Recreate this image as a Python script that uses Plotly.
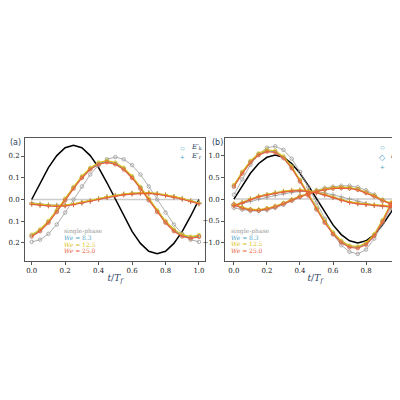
import plotly.graph_objects as go

t = [i / 20 for i in range(21)]

# panel (a)
forcing_a = [0, 0.077, 0.147, 0.202, 0.238, 0.25, 0.238, 0.202, 0.147, 0.077, 0,
             -0.077, -0.147, -0.202, -0.238, -0.25, -0.238, -0.202, -0.147, -0.077, 0]
ek_single_a = [-0.195, -0.185, -0.158, -0.115, -0.06, 0, 0.06, 0.115, 0.158, 0.185, 0.195,
               0.185, 0.158, 0.115, 0.06, 0, -0.06, -0.115, -0.158, -0.185, -0.195]
ek_we_a = [-0.166, -0.142, -0.103, -0.054, 0, 0.054, 0.103, 0.142, 0.166, 0.175, 0.166,
           0.142, 0.103, 0.054, 0, -0.054, -0.103, -0.142, -0.166, -0.175, -0.168]
er_we_a = [-0.02, -0.025, -0.028, -0.03, -0.028, -0.022, -0.015, -0.007, 0.002, 0.01, 0.017,
           0.023, 0.027, 0.03, 0.03, 0.026, 0.02, 0.012, 0.003, -0.008, -0.018]
er_single_a = [-0.015, -0.02, -0.024, -0.026, -0.025, -0.02, -0.013, -0.005, 0.004, 0.012, 0.019,
               0.025, 0.029, 0.031, 0.03, 0.027, 0.021, 0.013, 0.004, -0.006, -0.015]

# panel (b)
forcing_b = [0, 0.309, 0.588, 0.809, 0.951, 1, 0.951, 0.809, 0.588, 0.309, 0,
             -0.309, -0.588, -0.809, -0.951, -1, -0.951, -0.809, -0.588, -0.309, 0]
ek_single_b = [0.1, 0.45, 0.78, 1.02, 1.17, 1.2, 1.12, 0.92, 0.62, 0.28, -0.08,
               -0.45, -0.8, -1.05, -1.2, -1.25, -1.15, -0.9, -0.55, -0.2, 0.12]
ek_we_b = [0.3, 0.6, 0.85, 1.02, 1.1, 1.08, 0.95, 0.72, 0.42, 0.1, -0.22,
           -0.52, -0.78, -0.97, -1.08, -1.1, -1.02, -0.82, -0.5, -0.12, 0.3]
eps_single_b = [-0.2, -0.24, -0.27, -0.27, -0.25, -0.2, -0.13, -0.04, 0.05, 0.13, 0.2,
                0.25, 0.28, 0.3, 0.3, 0.27, 0.2, 0.1, -0.02, -0.1, -0.15]
eps_we_b = [-0.12, -0.2, -0.24, -0.25, -0.22, -0.17, -0.1, -0.02, 0.06, 0.12, 0.18,
            0.22, 0.25, 0.26, 0.25, 0.22, 0.15, 0.07, -0.03, -0.1, -0.15]
er_single_b = [-0.15, -0.1, -0.05, 0.0, 0.04, 0.08, 0.12, 0.15, 0.17, 0.18, 0.17,
               0.14, 0.1, 0.05, 0.0, -0.05, -0.1, -0.14, -0.17, -0.18, -0.2]
er_we_b = [-0.15, -0.08, 0.0, 0.06, 0.1, 0.14, 0.17, 0.19, 0.2, 0.18, 0.15,
           0.1, 0.04, -0.02, -0.07, -0.1, -0.12, -0.14, -0.15, -0.17, -0.18]

we_labels = ["We = 8.3", "We = 12.5", "We = 25.0"]
we_colors = ["#4fa3c7", "#d9c21a", "#e8603c"]
we_offsets = [0.0, 0.004, -0.004]
gray = "#999999"

fig = go.Figure()

def add(x, y, color, symbol, xa, ya, width=1.2):
    fig.add_trace(go.Scatter(
        x=x, y=y, xaxis=xa, yaxis=ya, mode="lines+markers",
        line=dict(color=color, width=width),
        marker=dict(symbol=symbol, size=3.5, color=color, line=dict(color=color, width=0.8)),
        showlegend=False))

for xa, ya, forcing, ek_s, ek_w, others_s, others_w, scale in [
        ("x", "y", forcing_a, ek_single_a, ek_we_a, [er_single_a], [er_we_a], 1),
        ("x2", "y2", forcing_b, ek_single_b, ek_we_b, [eps_single_b, er_single_b], [eps_we_b, er_we_b], 5)]:
    fig.add_trace(go.Scatter(x=[0, 1], y=[0, 0], xaxis=xa, yaxis=ya, mode="lines",
                             line=dict(color="#cccccc", width=1.5), showlegend=False))
    fig.add_trace(go.Scatter(x=t, y=forcing, xaxis=xa, yaxis=ya, mode="lines",
                             line=dict(color="black", width=1.5), showlegend=False))
    syms = ["diamond-open", "cross-thin-open"] if len(others_s) == 2 else ["cross-thin-open"]
    add(t, ek_s, gray, "circle-open", xa, ya, width=0.8)
    for s, sym in zip(others_s, syms):
        add(t, s, gray, sym, xa, ya, width=0.8)
    for c, off in zip(we_colors, we_offsets):
        add(t, [v + off * scale for v in ek_w], c, "circle-open", xa, ya)
        for s, sym in zip(others_w, syms):
            add(t, [v + off * scale * 0.5 for v in s], c, sym, xa, ya)

axis_common = dict(showgrid=False, zeroline=False, showline=True, mirror=True, linecolor="#555",
                   linewidth=1, ticks="outside", ticklen=3, tickcolor="#555", automargin=False,
                   tickfont=dict(size=7, family="DejaVu Serif", color="#222"))
xt = dict(tickvals=[0, 0.2, 0.4, 0.6, 0.8, 1.0], ticktext=["0.0", "0.2", "0.4", "0.6", "0.8", "1.0"],
          title=dict(text="<i>t</i>/<i>T<sub>f</sub></i>", font=dict(size=9, family="DejaVu Serif"),
                     standoff=0))
fig.update_layout(
    width=400, height=400, margin=dict(l=0, r=0, t=0, b=0, autoexpand=False),
    plot_bgcolor="white", paper_bgcolor="white",
    xaxis=dict(domain=[0.0425, 0.4925], range=[-0.04, 1.036], anchor="y", **xt, **axis_common),
    yaxis=dict(domain=[0.3675, 0.675], range=[-0.283, 0.283], tickvals=[-0.2, -0.1, 0, 0.1, 0.2],
               ticktext=["\u22120.2", "\u22120.1", "0.0", "0.1", "0.2"], anchor="x", **axis_common),
    xaxis2=dict(domain=[0.5425, 0.9925], range=[-0.054, 1.036], anchor="y2", **xt, **axis_common),
    yaxis2=dict(domain=[0.3675, 0.675], range=[-1.41, 1.39], tickvals=[-1, -0.5, 0, 0.5, 1],
                ticktext=["\u22121.0", "\u22120.5", "0.0", "0.5", "1.0"], anchor="x2", **axis_common),
)

ann_font = dict(size=7, family="DejaVu Serif")
anns = [
    dict(text="(a)", x=0.0, y=0.68, xref="paper", yref="paper", xanchor="left", yanchor="top",
         showarrow=False, font=dict(size=8, family="DejaVu Sans")),
    dict(text="(b)", x=0.505, y=0.68, xref="paper", yref="paper", xanchor="left", yanchor="top",
         showarrow=False, font=dict(size=8, family="DejaVu Sans")),
]
for xr, yr, xs, ys in [("x", "y", 0.18, [-0.145, -0.175, -0.205, -0.235]),
                       ("x2", "y2", -0.03, [-0.72, -0.87, -1.02, -1.17])]:
    texts = ["single-phase"] + ["<i>We</i> = " + w.split("= ")[1] for w in we_labels]
    for txt, yy, c in zip(texts, ys, [gray] + we_colors):
        anns.append(dict(text=txt, x=xs, y=yy, xref=xr, yref=yr, xanchor="left", showarrow=False,
                         font=dict(size=6, family="DejaVu Serif", color=c)))

leg_a = [("\u25cb", "<i>E</i>\u2032<sub>k</sub>", 0.24), ("+", "<i>E</i>\u2032<sub>r</sub>", 0.2)]
for sym, lab, yy in leg_a:
    anns.append(dict(text=sym, x=0.9, y=yy, xref="x", yref="y", showarrow=False,
                     font=dict(size=8, color=we_colors[0])))
    anns.append(dict(text=lab, x=0.94, y=yy, xref="x", yref="y", xanchor="left", showarrow=False,
                     font=ann_font))
leg_b = [("\u25cb", "<i>\u00ca</i>\u2032<sub>k</sub>", 1.2), ("\u25c7", "<i>\u03b5</i>\u2032", 0.97),
         ("+", "<i>\u00ca</i>\u2032<sub>r</sub>", 0.74)]
for sym, lab, yy in leg_b:
    anns.append(dict(text=sym, x=0.9, y=yy, xref="x2", yref="y2", showarrow=False,
                     font=dict(size=8, color=we_colors[0])))
    anns.append(dict(text=lab, x=0.94, y=yy, xref="x2", yref="y2", xanchor="left", showarrow=False,
                     font=ann_font))
fig.update_layout(annotations=anns)

fig.write_html("out.html")
